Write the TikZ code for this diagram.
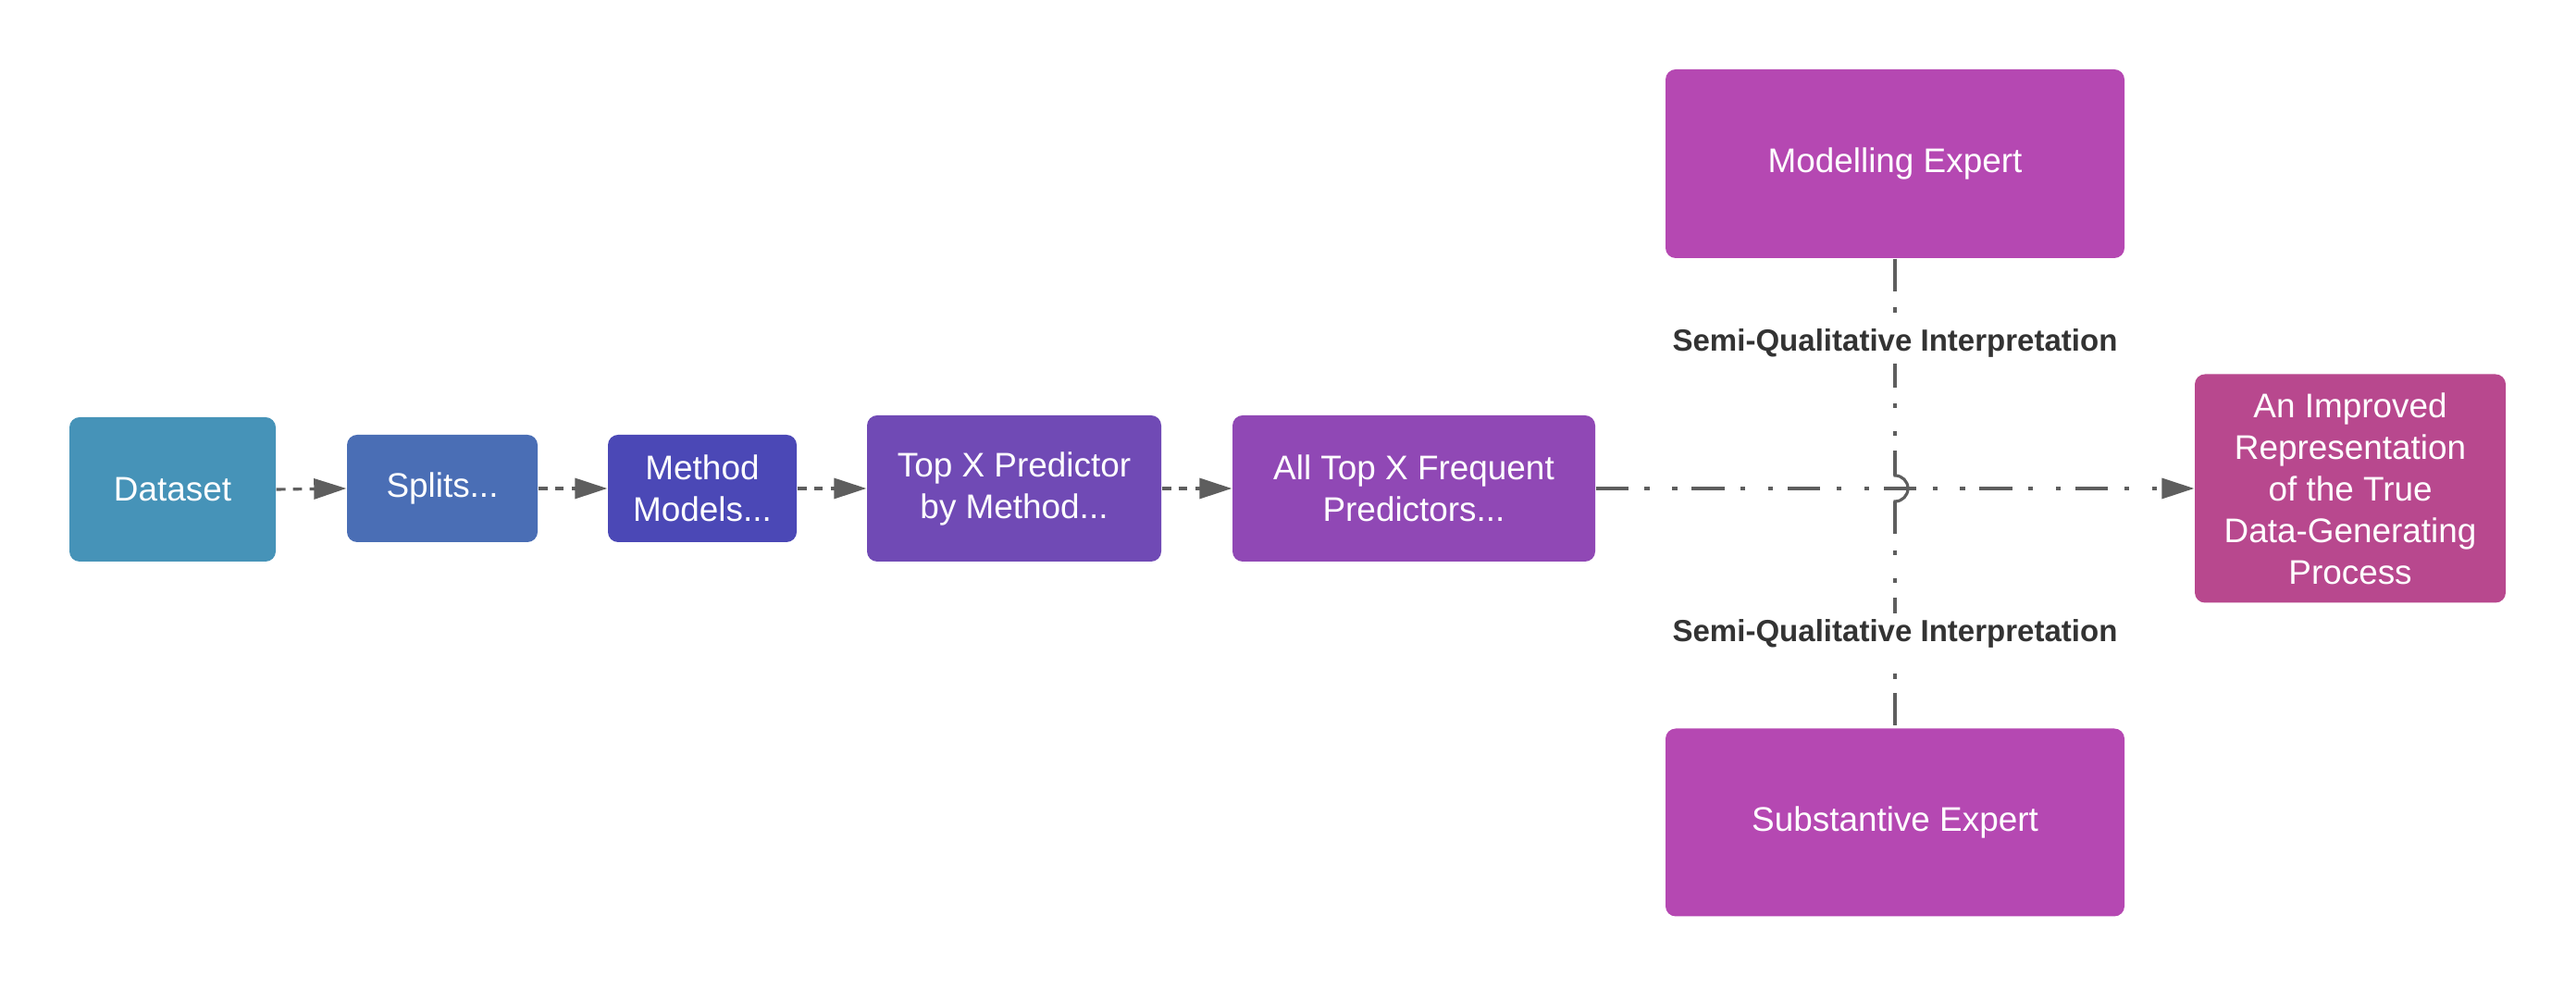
\documentclass[tikz,border=0pt]{standalone}
\usepackage{fontspec}
\setmainfont{Liberation Sans}
\usetikzlibrary{arrows.meta}
\definecolor{cdata}{RGB}{70,147,184}
\definecolor{csplit}{RGB}{74,110,181}
\definecolor{cmethod}{RGB}{75,72,182}
\definecolor{ctopx}{RGB}{112,74,181}
\definecolor{calltop}{RGB}{144,72,181}
\definecolor{cexpert}{RGB}{181,72,178}
\definecolor{cimproved}{RGB}{184,72,142}
\definecolor{cline}{RGB}{94,94,94}
\definecolor{clabel}{RGB}{51,51,51}
\begin{document}
\begin{tikzpicture}[
blocknode/.style={rectangle, rounded corners=0.11cm, text=white, align=center, inner sep=0pt,
  font=\fontsize{10.5}{12.8}\selectfont},
flowline/.style={draw=cline, line width=0.9pt, dash pattern=on 2.8pt off 2.3pt,
  -{Triangle[length=0.35cm, width=0.22cm]}},
interpline/.style={draw=cline, line width=0.9pt,
  dash pattern=on 10pt off 5pt on 1.5pt off 7pt on 1.5pt off 4.5pt},
labelnode/.style={fill=white, text=clabel, inner sep=2pt, font=\fontsize{9.4}{11}\selectfont\bfseries},
]
\useasboundingbox (0,0) rectangle (27.84,10.69);
%Nodes
\node[blocknode, fill=cdata,     minimum width=2.23cm, minimum height=1.56cm] (dataset)     at (1.865,5.40) {Dataset};
\node[blocknode, fill=csplit,    minimum width=2.06cm, minimum height=1.16cm] (splits)      at (4.78,5.41)  {Splits...};
\node[blocknode, fill=cmethod,   minimum width=2.04cm, minimum height=1.16cm] (method)      at (7.59,5.41)  {Method\\Models...};
\node[blocknode, fill=ctopx,     minimum width=3.18cm, minimum height=1.58cm] (topx)        at (10.96,5.41) {Top X Predictor\\by Method...};
\node[blocknode, fill=calltop,   minimum width=3.92cm, minimum height=1.58cm] (alltop)      at (15.28,5.41) {All Top X Frequent\\Predictors...};
\node[blocknode, fill=cexpert,   minimum width=4.96cm, minimum height=2.04cm] (modelling)   at (20.48,8.92) {Modelling Expert};
\node[blocknode, fill=cexpert,   minimum width=4.96cm, minimum height=2.03cm] (substantive) at (20.48,1.80) {Substantive Expert};
\node[blocknode, fill=cimproved, minimum width=3.36cm, minimum height=2.47cm] (improved)    at (25.40,5.41) {An Improved\\Representation\\of the True\\Data-Generating\\Process};
\coordinate (jumptop) at (20.48,5.55);
\coordinate (jumpbot) at (20.48,5.27);

%Lines
\draw[flowline] (dataset.east) -- (splits.west);
\draw[flowline] (splits.east) -- (method.west);
\draw[flowline] (method.east) -- (topx.west);
\draw[flowline] (topx.east) -- (alltop.west);
\draw[interpline, -{Triangle[length=0.35cm, width=0.22cm]}] (alltop.east) -- (improved.west);
\draw[interpline] (modelling.south) -- node[labelnode, pos=0.39] {Semi-Qualitative Interpretation} (jumptop);
\draw[cline, line width=0.9pt] ([yshift=0.12cm]jumptop) -- (jumptop) arc[start angle=90, end angle=-90, radius=0.14cm] -- ([yshift=-0.12cm]jumpbot);
\draw[interpline] (jumpbot) -- node[labelnode, pos=0.585] {Semi-Qualitative Interpretation} (substantive.north);
\end{tikzpicture}
\end{document}
